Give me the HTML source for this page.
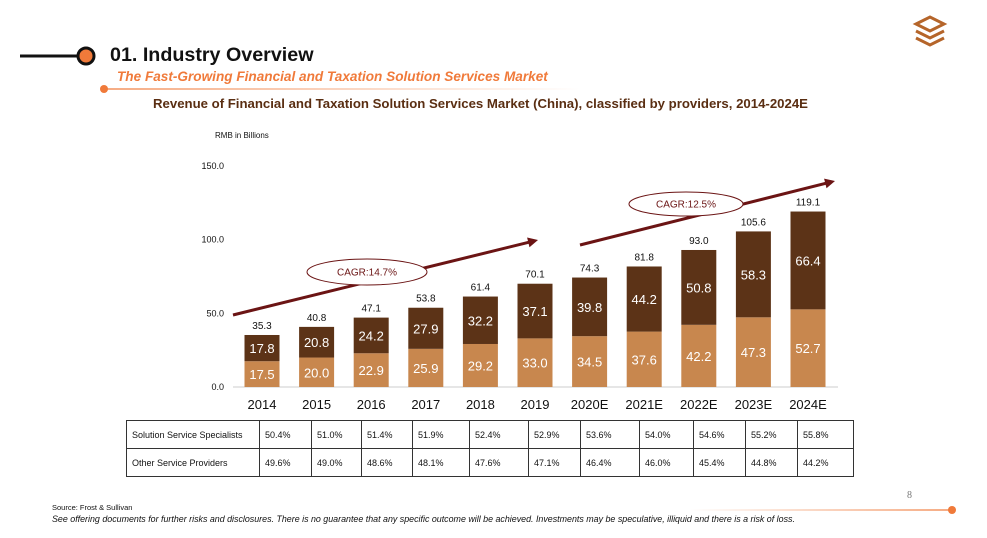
<!DOCTYPE html>
<html><head><meta charset="utf-8"><style>
body{margin:0;width:987px;height:538px;background:#fff;font-family:"Liberation Sans",sans-serif;position:relative;overflow:hidden}
.a{position:absolute}
table{border-collapse:collapse;position:absolute;left:126px;top:420px;font-size:9px;color:#111;table-layout:fixed;width:727px}
td{border:1px solid #333;padding:0 0 0 5px;height:27px;vertical-align:middle;overflow:hidden;white-space:nowrap}
</style></head><body>
<svg class="a" style="left:0;top:0" width="987" height="538">
<defs><linearGradient id="g1" gradientUnits="userSpaceOnUse" x1="104" y1="0" x2="580" y2="0"><stop offset="0" stop-color="#f07a3a"/><stop offset="1" stop-color="#f07a3a" stop-opacity="0"/></linearGradient>
<linearGradient id="g2" gradientUnits="userSpaceOnUse" x1="690" y1="0" x2="950" y2="0"><stop offset="0" stop-color="#f07a3a" stop-opacity="0"/><stop offset="1" stop-color="#f07a3a"/></linearGradient></defs>
<line x1="20" y1="56" x2="78" y2="56" stroke="#111" stroke-width="3"/>
<circle cx="86" cy="56" r="8" fill="#f07a3a" stroke="#111" stroke-width="3"/>
<line x1="104" y1="89" x2="580" y2="89" stroke="url(#g1)" stroke-width="1.2"/>
<circle cx="104" cy="89" r="4" fill="#f07a3a"/>
<line x1="690" y1="510" x2="950" y2="510" stroke="url(#g2)" stroke-width="1.2"/>
<circle cx="952" cy="510" r="4" fill="#f07a3a"/>
<g fill="none" stroke="#b5652a" stroke-width="3">
<path d="M916 24 L930 17 L944 24 L930 31 Z"/><path d="M916 31 L930 38 L944 31"/><path d="M916 38 L930 45 L944 38"/></g>
</svg>
<div class="a" style="left:110px;top:44px;font-size:19.7px;font-weight:bold;color:#111">01. Industry Overview</div>
<div class="a" style="left:117px;top:69px;font-size:13.6px;font-weight:bold;font-style:italic;color:#f07a3a">The Fast-Growing Financial and Taxation Solution Services Market</div>
<div class="a" style="left:153px;top:96px;font-size:13.2px;font-weight:bold;color:#5a2e12">Revenue of Financial and Taxation Solution Services Market (China), classified by providers, 2014-2024E</div>
<div class="a" style="left:215px;top:131px;font-size:8px;color:#111">RMB in Billions</div>
<svg id="chart" class="a" style="left:0;top:0" width="987" height="420"></svg>
<table><colgroup><col style="width:133px"><col style="width:52px"><col style="width:50px"><col style="width:51px"><col style="width:57px"><col style="width:59px"><col style="width:52px"><col style="width:59px"><col style="width:54px"><col style="width:52px"><col style="width:52px"><col style="width:56px"></colgroup><tbody id="tb"></tbody></table>
<div class="a" style="left:907px;top:490px;font-size:10px;color:#777;font-family:'Liberation Serif',serif">8</div>
<div class="a" style="left:52px;top:503px;font-size:7.5px;color:#111">Source: Frost &amp; Sullivan</div>
<div class="a" style="left:52px;top:514px;font-size:8.9px;font-style:italic;color:#111;white-space:nowrap">See offering documents for further risks and disclosures. There is no guarantee that any specific outcome will be achieved. Investments may be speculative, illiquid and there is a risk of loss.</div>
<script>
const categories=["2014","2015","2016","2017","2018","2019","2020E","2021E","2022E","2023E","2024E"];
const specialists=[17.5,20.0,22.9,25.9,29.2,33.0,34.5,37.6,42.2,47.3,52.7];
const others=[17.8,20.8,24.2,27.9,32.2,37.1,39.8,44.2,50.8,58.3,66.4];
const totals=[35.3,40.8,47.1,53.8,61.4,70.1,74.3,81.8,93.0,105.6,119.1];
const yTicks=[0,50,100,150];
const shareSpec=["50.4%","51.0%","51.4%","51.9%","52.4%","52.9%","53.6%","54.0%","54.6%","55.2%","55.8%"];
const shareOther=["49.6%","49.0%","48.6%","48.1%","47.6%","47.1%","46.4%","46.0%","45.4%","44.8%","44.2%"];
const NS="http://www.w3.org/2000/svg",svg=document.getElementById('chart');
const y=v=>387-v*1.4733, x=i=>262+i*54.6, bw=35;
function mk(t,a,txt){const e=document.createElementNS(NS,t);for(const k in a)e.setAttribute(k,a[k]);if(txt!=null)e.textContent=txt;svg.appendChild(e);return e;}
let e=mk('line',{x1:233,x2:838,y1:387,y2:387,stroke:'#ccc'});


yTicks.forEach(t=>{let l=mk('text',{x:224,y:y(t)+3,'text-anchor':'end','font-size':9,fill:'#111'},t.toFixed(1));

});
categories.forEach((c,i)=>{
 let b1=mk('rect',{x:x(i)-bw/2,y:y(specialists[i]),width:bw,height:y(0)-y(specialists[i]),fill:'#c8874e'});
 
 
 let top=specialists[i]+others[i];
 let b2=mk('rect',{x:x(i)-bw/2,y:y(top),width:bw,height:y(specialists[i])-y(top),fill:'#5c3317'});
 
 
 let t1=mk('text',{x:x(i),y:(y(0)+y(specialists[i]))/2+5,'text-anchor':'middle','font-size':13,fill:'#fff'},specialists[i].toFixed(1));
 
 
 let t2=mk('text',{x:x(i),y:(y(specialists[i])+y(top))/2+5,'text-anchor':'middle','font-size':13,fill:'#fff'},others[i].toFixed(1));
 
 
 let t3=mk('text',{x:x(i),y:y(top)-6,'text-anchor':'middle','font-size':10,fill:'#111'},totals[i].toFixed(1));
 
 
 let t4=mk('text',{x:x(i),y:409,'text-anchor':'middle','font-size':13,fill:'#111'},c);
 
 
});
function arrow(x1,y1,x2,y2,name){let a=Math.atan2(y2-y1,x2-x1),L=10;
 let l=mk('line',{x1,y1,x2:x2-Math.cos(a)*6,y2:y2-Math.sin(a)*6,stroke:'#6b1414','stroke-width':3});
 
 
 mk('polygon',{points:`${x2},${y2} ${x2-L*Math.cos(a)+5*Math.sin(a)},${y2-L*Math.sin(a)-5*Math.cos(a)} ${x2-L*Math.cos(a)-5*Math.sin(a)},${y2-L*Math.sin(a)+5*Math.cos(a)}`,fill:'#6b1414'});}
arrow(233,315,538,240,'cagr-arrow-historical');
arrow(580,245,835,181,'cagr-arrow-forecast');
[[367,272,60,13,'CAGR:14.7%'],[686,204,57,12,'CAGR:12.5%']].forEach(([cx,cy,rx,ry,t],k)=>{
 let el=mk('ellipse',{cx,cy,rx,ry,fill:'#fff',stroke:'#6b1414','stroke-width':1});
 
 
 mk('text',{x:cx,y:cy+3.5,'text-anchor':'middle','font-size':10,fill:'#6b1414'},t);
});
const tb=document.getElementById('tb');
[["Solution Service Specialists",shareSpec],["Other Service Providers",shareOther]].forEach(([n,arr])=>{
 const tr=document.createElement('tr');
 
 
 const th=document.createElement('td');th.textContent=n;tr.appendChild(th);
 arr.forEach((v,i)=>{const td=document.createElement('td');td.textContent=v;tr.appendChild(td);});
 tb.appendChild(tr);
});
</script>
</body></html>
